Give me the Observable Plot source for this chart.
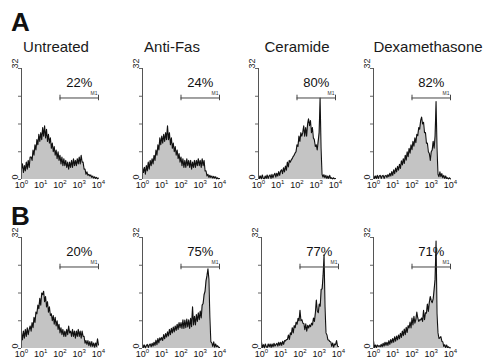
<!DOCTYPE html>
<html>
<head>
<meta charset="utf-8">
<script src="https://cdn.jsdelivr.net/npm/d3@7"></script>
<script src="https://cdn.jsdelivr.net/npm/@observablehq/plot@0.6"></script>
<style>
  html, body { margin: 0; padding: 0; background: #fff; }
  #chart { position: relative; width: 489px; height: 362px; background: #fff; overflow: hidden;
           font-family: "Liberation Sans", Arial, sans-serif; color: #111; }
  .lbl { position: absolute; font-weight: bold; font-size: 26px; line-height: 26px; }
  .ttl { position: absolute; width: 120px; text-align: center; font-size: 15px; line-height: 15px; color: #1a1a1a; }
</style>
</head>
<body>
<div id="chart"></div>
<script>
// ---- data (counts per channel, channels every 0.05 decade from 10^0 to 10^4) ----
const untreatedA = [3,4.5,2,4,2.5,5,3,5.5,3.5,6.5, 6.5,5.5,8.5,7,10,8.5,11.5,10,13,11,
  13.5,11.5,15,12.5,15.5,12,14.5,11,13,10.5, 12,9,10.5,8,9.5,7,8.5,6,8,5.5,
  7,4.5,6.5,4,6,4,5.5,3.5,5,3, 5,3.5,5.5,3.5,6,4,5.5,4,6,4.5,
  6.5,4.5,7,5,5,3,3,1.5,2.2,1.2, 1.5,1,1.3,0.6,1,0.4,0.8,0.3,0.6,0.2, 0.4];
const antiFasA = [3.5,2,3.5,1.5,4,2.5,5,3,5.5,4, 6,4.5,7,5.5,8.5,7,10,8.5,12,10,
  12.5,10.5,13,11,13.5,11.5,15.5,11.5,13.5,10, 12,9,10.5,8,9.5,7,8.5,6,7.5,5,
  6.5,4,6,3.5,5.5,3.5,6,4,5.5,3.5, 5.5,3,5,3.5,5.5,3.5,5.5,4,6,4,
  5.5,3.5,6,4,5.5,2.5,2.5,1,1.5,0.6, 1.2,0.6,1,0.4,0.9,0.4,0.8,0.2,0.5,0.2, 0.3];
const ceramideA = [1.3,0.3,1,0.2,1.3,0.3,0.2,1,0.3,1.3, 0.3,1,1.3,0.3,1.5,0.5,1.3,1.8,0.7,1.8,
  1,2.3,1.2,2.4,2.8,1.7,3.4,2.2,3.9,2.7, 5,3.6,5.5,5,5.6,6,6.6,7,7.6,8,
  10,9.5,12.5,11,13.5,12.5,13.5,15.5,12.5,15, 12.5,16,17.5,15.5,17,13.5,15,12,11.5,9.5,
  10,8.5,11,13.5,23.5,9,1.5,0.7,1.4,0.5, 1.2,0.3,1,0.3,1.2,0.3,0.5,0.2,0.5,0.2, 0.3];
const dexA = [1.2,0.3,1,0.3,1.2,0.3,1,1.2,0.3,1, 1.2,0.3,1,1.2,0.6,1.4,0.8,1.8,1,2.3,
  1.2,2.8,1.7,3.3,2.2,3.8,2.7,4.4,3.2,5.4, 4.2,6,4.6,7,5.6,8,6.6,9,7.6,10,
  8.6,11,9.6,12,10.6,13,12.6,15,14.5,17, 18,16,16.5,13.5,13.5,10.5,10.5,8,7.5,5.5,
  8,8.5,11,9,12.5,22.5,9,1.5,0.8,2.2, 0.8,1.7,0.5,1.2,0.3,1,0.3,0.5,0.2,0.5, 0.2];
const untreatedB = [4.5,2.5,5,3,5.5,3.5,6,4,5.5,6.5, 5,7.5,6,9,7.5,10.5,10,12.5,11.5,14.5,
  12.5,16,15.5,16.5,13.5,15,12,13.5,10.5,12, 9.5,10,8,9.5,7,9,6.5,8,5.5,7,
  4.5,6,4,5.5,3.5,5,3.5,5.5,4,6.5, 4.5,5,3.5,5.5,3.5,5,3,5,3.5,5.5,
  3.5,5,3,5,3.5,3.5,1.5,2.3,1.2,2.3, 0.8,2,0.6,2,0.6,1.6,0.4,1.6,0.6,2.8, 1];
const antiFasB = [1.3,0.3,1,0.2,0.8,1.2,0.3,1,1.3,0.5, 1.5,0.7,1.8,0.9,2.4,1.1,2.9,1.6,3.1,2.4,
  3.2,2.3,4,2.8,4.3,3.3,4.8,3.6,5.5,4, 5.8,4.5,6.2,4.8,6.5,5.2,7,5.5,7.5,6,
  7.5,5.8,8.3,5.8,8.2,6,8.5,6.2,8.3,5.8, 8.7,6.3,12,6.8,9.3,6.8,9.8,7.8,10.3,8.3,
  10.8,8.8,12.5,13,15.5,16.5,19.5,21,23,20, 9,2,1.6,0.6,1.9,0.4,1.3,0.5,0.8,0.4, 0.3];
const ceramideB = [1.8,0.3,1.1,0.2,1.3,0.5,0.3,1.3,0.5,1.3, 0.3,1.3,0.5,1.5,0.7,1.1,1.5,0.7,1.8,0.9,
  1.8,0.9,2.1,1.2,2.3,2.2,2.6,2.6,3.9,2.6, 4.5,4,6,4.5,6.6,6,7.6,7,8.7,8,
  11,8,8.3,7.3,7.2,5.4,7.1,5,6.7,5.9, 6.8,6.3,7.3,6.8,8.8,7.8,10.3,14,10.8,10.3,
  12.8,12.2,17,17.2,21,27,12,4.5,3.9,2.5, 2.4,2,1.9,0.6,1.6,0.4,1.3,1.1,2.3,0.7, 0.5];
const dexB = [2.2,0.3,1,0.3,1,0.6,0.8,0.5,1.2,0.5, 1.5,0.7,1.8,0.9,1.8,0.9,2.3,1.2,2.6,1.6,
  2.9,1.8,3.4,2.1,3.6,2.5,3.9,2.8,4.4,3.2, 5,3.7,5.6,4,6.1,4.6,6.6,5.9,7.6,5.9,
  8.8,6.8,9.3,7.3,8.3,10.5,8.8,7.8,8.3,8.2, 8.8,7.8,11,8.3,10.3,10.2,12.8,10.7,13.3,15,
  13.8,13.2,14.3,17,20,31,10,4.5,2.9,3.1, 3.4,2.1,1.9,0.6,1.1,0.3,1,0.3,0.5,0.2, 0.2];

const titles = ["Untreated", "Anti-Fas", "Ceramide", "Dexamethasone"];
const rowLabels = ["A", "B"];
const percentsA = ["22%", "24%", "80%", "82%"];
const percentsB = ["20%", "75%", "77%", "71%"];
const xTicks = [1, 10, 100, 1000, 10000];
const xTickLabels = ["10^0", "10^1", "10^2", "10^3", "10^4"];
const yTicks = [0, 8, 16, 24, 32];
const yLabels = [0, 32];
const gateRange = [100, 10000];   // M1 marker
const gateName = "M1";

// ---- layout ----
const chart = document.getElementById("chart");
const colX = [21, 142, 258, 373];
const colXB = [21, 142, 261, 373];
const rowTop = [68, 237];
const mL = 16, mR = 8, mT = 6, mB = 14, plotW = 77, plotH = 111;

function panel(values, pct, axisX, topY) {
  const data = values.map((v, i) => ({x: Math.pow(10, i * 0.05), y: v}));
  const svg = Plot.plot({
    width: mL + plotW + mR, height: mT + plotH + mB,
    marginLeft: mL, marginRight: mR, marginTop: mT, marginBottom: mB,
    style: {fontFamily: '"Liberation Sans", Arial, sans-serif', background: "transparent", overflow: "visible"},
    x: {type: "log", domain: [1, 10000]},
    y: {domain: [0, 32]},
    marks: [
      Plot.areaY(data, {x: "x", y: "y", fill: "#c4c4c4"}),
      Plot.lineY(data, {x: "x", y: "y", stroke: "#111", strokeWidth: 1.1}),
      Plot.ruleX([1], {y1: 0, y2: 32, stroke: "#555", strokeWidth: 1}),
      Plot.axisY({ticks: yTicks, tickSize: 3, tickFormat: () => "", label: null, stroke: "#666"}),
      Plot.text(yLabels, {y: d => d, text: d => String(d), frameAnchor: "left", dx: -6, rotate: -90, fontSize: 9, fill: "#222"}),
      Plot.axisX({ticks: xTicks, tickSize: 0, tickPadding: 2, label: null, fontSize: 9,
                  tickFormat: d => xTickLabels[xTicks.indexOf(d)]}),
      Plot.ruleY([23.5], {x1: gateRange[0], x2: gateRange[1], stroke: "#444", strokeWidth: 1}),
      Plot.ruleX(gateRange, {y1: 22.7, y2: 24.3, stroke: "#444", strokeWidth: 1}),
      Plot.text([gateName], {x: gateRange[1], y: 24.9, text: d => d, textAnchor: "end", dx: -1, fontSize: 5, fill: "#333"}),
      Plot.text([pct], {x: 1000, y: 27.8, text: d => d, fontSize: 13, fill: "#111"})
    ]
  });
  // superscript exponents on x tick labels
  svg.querySelectorAll('[aria-label="x-axis tick label"] text').forEach(t => {
    const s = t.textContent;
    if (!s.includes("^")) return;
    const [b, e] = s.split("^");
    t.textContent = b;
    const ts = document.createElementNS("http://www.w3.org/2000/svg", "tspan");
    ts.setAttribute("dy", "-3.5");
    ts.setAttribute("font-size", "6");
    ts.textContent = e;
    t.appendChild(ts);
  });
  svg.style.position = "absolute";
  svg.style.left = (axisX - mL) + "px";
  svg.style.top = (topY - mT) + "px";
  chart.appendChild(svg);
}

const rowA = [untreatedA, antiFasA, ceramideA, dexA];
const rowB = [untreatedB, antiFasB, ceramideB, dexB];
rowA.forEach((v, i) => panel(v, percentsA[i], colX[i], rowTop[0]));
rowB.forEach((v, i) => panel(v, percentsB[i], colXB[i], rowTop[1]));

// titles
const titleCenters = [56, 172, 297, 428];
titles.forEach((t, i) => {
  const d = document.createElement("div");
  d.className = "ttl";
  d.textContent = t;
  d.style.left = (titleCenters[i] - 60) + "px";
  d.style.top = "39px";
  chart.appendChild(d);
});
// row labels
[[rowLabels[0], 11, 9], [rowLabels[1], 11, 203]].forEach(([t, l, tp]) => {
  const d = document.createElement("div");
  d.className = "lbl";
  d.textContent = t;
  d.style.left = l + "px";
  d.style.top = tp + "px";
  chart.appendChild(d);
});
</script>
</body>
</html>
